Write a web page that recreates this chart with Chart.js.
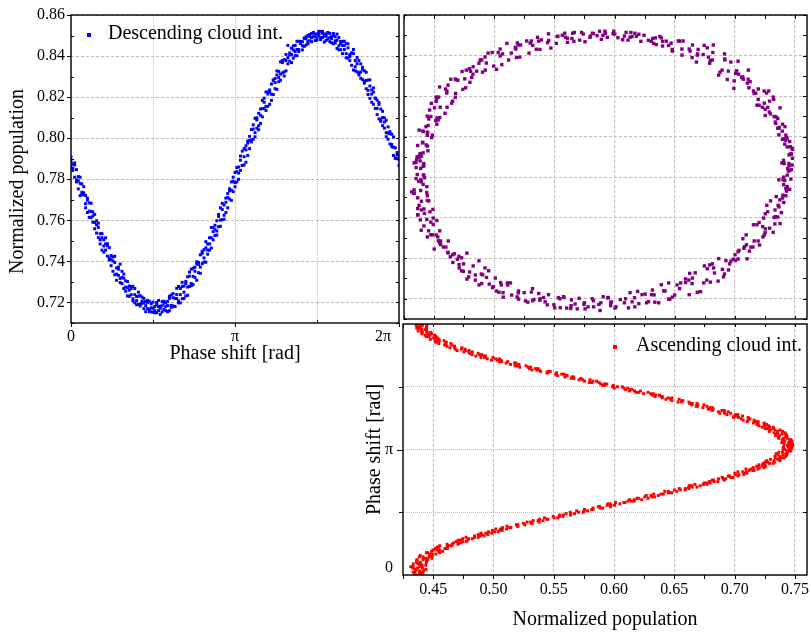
<!DOCTYPE html>
<html>
<head>
<meta charset="utf-8">
<script src="https://cdn.jsdelivr.net/npm/chart.js@4/dist/chart.umd.min.js"></script>
<style>
  html, body { margin: 0; padding: 0; background: #fff; }
  #wrap { position: relative; width: 811px; height: 632px; overflow: hidden; background: #fff; }
  canvas { position: absolute; }
</style>
</head>
<body>
<div id="wrap">
  <canvas id="c1" width="403" height="372" style="left:0;top:0;width:403px;height:372px"></canvas>
  <canvas id="c2" width="411" height="323" style="left:400px;top:0;width:411px;height:323px"></canvas>
  <canvas id="c3" width="481" height="312" style="left:330px;top:320px;width:481px;height:312px"></canvas>
</div>
<script>
const PI = Math.PI;

// Phase shift of each scan step (rad); every run uses the same steps
const phase = [
  0.000,0.035,0.070,0.105,0.140,0.175,0.209,0.244,0.279,0.314,
  0.349,0.384,0.419,0.454,0.489,0.524,0.559,0.593,0.628,0.663,
  0.698,0.733,0.768,0.803,0.838,0.873,0.908,0.942,0.977,1.012,
  1.047,1.082,1.117,1.152,1.187,1.222,1.257,1.292,1.326,1.361,
  1.396,1.431,1.466,1.501,1.536,1.571,1.606,1.641,1.676,1.710,
  1.745,1.780,1.815,1.850,1.885,1.920,1.955,1.990,2.025,2.059,
  2.094,2.129,2.164,2.199,2.234,2.269,2.304,2.339,2.374,2.409,
  2.443,2.478,2.513,2.548,2.583,2.618,2.653,2.688,2.723,2.758,
  2.793,2.827,2.862,2.897,2.932,2.967,3.002,3.037,3.072,3.107,
  3.142,3.176,3.211,3.246,3.281,3.316,3.351,3.386,3.421,3.456,
  3.491,3.526,3.560,3.595,3.630,3.665,3.700,3.735,3.770,3.805,
  3.840,3.875,3.910,3.944,3.979,4.014,4.049,4.084,4.119,4.154,
  4.189,4.224,4.259,4.294,4.328,4.363,4.398,4.433,4.468,4.503,
  4.538,4.573,4.608,4.643,4.677,4.712,4.747,4.782,4.817,4.852,
  4.887,4.922,4.957,4.992,5.027,5.061,5.096,5.131,5.166,5.201,
  5.236,5.271,5.306,5.341,5.376,5.411,5.445,5.480,5.515,5.550,
  5.585,5.620,5.655,5.690,5.725,5.760,5.794,5.829,5.864,5.899,
  5.934,5.969,6.004,6.039,6.074,6.109,6.144,6.178,6.213,6.248,
  6.283
];

// Normalized population of the descending cloud, three runs
const descendingRun1 = [
  0.7907,0.7853,0.7870,0.7787,0.7793,0.7810,0.7727,0.7734,0.7661,0.7698,
  0.7645,0.7683,0.7591,0.7589,0.7598,0.7516,0.7535,0.7455,0.7505,0.7455,
  0.7486,0.7407,0.7409,0.7422,0.7335,0.7368,0.7332,0.7387,0.7292,0.7318,
  0.7255,0.7272,0.7280,0.7238,0.7278,0.7198,0.7229,0.7190,0.7233,0.7196,
  0.7170,0.7205,0.7170,0.7206,0.7174,0.7152,0.7180,0.7190,0.7160,0.7182,
  0.7204,0.7166,0.7180,0.7205,0.7160,0.7236,0.7183,0.7220,0.7269,0.7198,
  0.7238,0.7278,0.7220,0.7292,0.7275,0.7348,0.7292,0.7327,0.7372,0.7308,
  0.7385,0.7372,0.7449,0.7417,0.7466,0.7435,0.7485,0.7565,0.7505,0.7556,
  0.7528,0.7619,0.7601,0.7653,0.7605,0.7688,0.7731,0.7704,0.7747,0.7810,
  0.7763,0.7837,0.7830,0.7913,0.7867,0.7910,0.7963,0.7916,0.7989,0.7992,
  0.8065,0.8027,0.8089,0.8061,0.8112,0.8184,0.8145,0.8135,0.8215,0.8225,
  0.8214,0.8283,0.8271,0.8238,0.8325,0.8312,0.8378,0.8323,0.8378,0.8452,
  0.8375,0.8408,0.8450,0.8422,0.8402,0.8472,0.8471,0.8450,0.8487,0.8484,
  0.8460,0.8505,0.8510,0.8494,0.8506,0.8488,0.8520,0.8480,0.8510,0.8498,
  0.8506,0.8484,0.8510,0.8485,0.8460,0.8494,0.8477,0.8430,0.8461,0.8472,
  0.8432,0.8462,0.8390,0.8408,0.8415,0.8332,0.8378,0.8393,0.8318,0.8322,
  0.8335,0.8268,0.8281,0.8213,0.8284,0.8215,0.8165,0.8195,0.8145,0.8174,
  0.8092,0.8101,0.8099,0.8007,0.8025,0.8022,0.7969,0.8006,0.7903,0.7920,
  0.7907
];
const descendingRun2 = [
  0.7857,0.7873,0.7880,0.7797,0.7813,0.7720,0.7777,0.7724,0.7721,0.7638,
  0.7685,0.7613,0.7621,0.7629,0.7538,0.7566,0.7485,0.7515,0.7475,0.7515,
  0.7426,0.7467,0.7379,0.7402,0.7395,0.7308,0.7372,0.7317,0.7352,0.7268,
  0.7305,0.7232,0.7260,0.7278,0.7218,0.7268,0.7189,0.7230,0.7193,0.7226,
  0.7200,0.7155,0.7210,0.7156,0.7194,0.7172,0.7150,0.7200,0.7180,0.7142,
  0.7154,0.7206,0.7200,0.7155,0.7230,0.7186,0.7223,0.7180,0.7219,0.7278,
  0.7268,0.7218,0.7280,0.7232,0.7325,0.7278,0.7362,0.7287,0.7352,0.7388,
  0.7345,0.7432,0.7389,0.7457,0.7396,0.7485,0.7455,0.7515,0.7565,0.7526,
  0.7598,0.7569,0.7661,0.7603,0.7675,0.7638,0.7711,0.7754,0.7697,0.7790,
  0.7833,0.7787,0.7860,0.7843,0.7937,0.7870,0.7943,0.7986,0.7949,0.8042,
  0.7995,0.8097,0.8049,0.8121,0.8072,0.8144,0.8195,0.8155,0.8225,0.8165,
  0.8264,0.8213,0.8291,0.8328,0.8275,0.8372,0.8318,0.8383,0.8328,0.8392,
  0.8415,0.8368,0.8430,0.8402,0.8472,0.8432,0.8461,0.8430,0.8487,0.8454,
  0.8500,0.8475,0.8490,0.8514,0.8476,0.8508,0.8500,0.8490,0.8520,0.8468,
  0.8496,0.8514,0.8470,0.8495,0.8500,0.8464,0.8437,0.8490,0.8431,0.8452,
  0.8472,0.8412,0.8460,0.8378,0.8415,0.8432,0.8328,0.8363,0.8308,0.8362,
  0.8285,0.8328,0.8241,0.8283,0.8194,0.8235,0.8245,0.8145,0.8185,0.8094,
  0.8142,0.8061,0.8049,0.8087,0.7995,0.8032,0.7959,0.7916,0.7953,0.7900,
  0.7867
];
const descendingRun3 = [
  0.7887,0.7843,0.7810,0.7847,0.7753,0.7780,0.7737,0.7764,0.7681,0.7708,
  0.7615,0.7643,0.7641,0.7559,0.7578,0.7586,0.7505,0.7535,0.7445,0.7485,
  0.7476,0.7417,0.7429,0.7352,0.7425,0.7338,0.7362,0.7297,0.7322,0.7338,
  0.7275,0.7302,0.7230,0.7268,0.7208,0.7238,0.7209,0.7250,0.7183,0.7206,
  0.7220,0.7185,0.7200,0.7166,0.7154,0.7202,0.7160,0.7150,0.7210,0.7172,
  0.7184,0.7196,0.7160,0.7185,0.7220,0.7176,0.7243,0.7180,0.7239,0.7208,
  0.7198,0.7298,0.7250,0.7302,0.7235,0.7328,0.7282,0.7367,0.7322,0.7398,
  0.7395,0.7342,0.7439,0.7397,0.7496,0.7455,0.7515,0.7465,0.7545,0.7576,
  0.7548,0.7629,0.7571,0.7683,0.7625,0.7708,0.7661,0.7744,0.7787,0.7740,
  0.7783,0.7857,0.7800,0.7893,0.7867,0.7950,0.7883,0.7976,0.8009,0.7982,
  0.8045,0.8007,0.8099,0.8041,0.8142,0.8104,0.8175,0.8225,0.8155,0.8235,
  0.8184,0.8283,0.8241,0.8308,0.8295,0.8282,0.8368,0.8303,0.8408,0.8362,
  0.8405,0.8438,0.8390,0.8452,0.8432,0.8422,0.8471,0.8470,0.8447,0.8494,
  0.8470,0.8495,0.8470,0.8514,0.8496,0.8478,0.8510,0.8520,0.8490,0.8508,
  0.8476,0.8514,0.8490,0.8465,0.8510,0.8474,0.8507,0.8450,0.8471,0.8412,
  0.8452,0.8392,0.8440,0.8398,0.8355,0.8412,0.8348,0.8323,0.8378,0.8292,
  0.8345,0.8278,0.8321,0.8233,0.8254,0.8175,0.8225,0.8195,0.8115,0.8164,
  0.8082,0.8131,0.8079,0.8027,0.8055,0.7972,0.8019,0.7956,0.7903,0.7930,
  0.7897
];

// Normalized population of the ascending cloud, three runs
const ascendingRun1 = [
  0.4385,0.4409,0.4334,0.4391,0.4350,0.4411,0.4314,0.4389,0.4375,0.4364,
  0.4364,0.4456,0.4440,0.4386,0.4493,0.4473,0.4454,0.4577,0.4531,0.4598,
  0.4536,0.4635,0.4706,0.4669,0.4743,0.4708,0.4795,0.4873,0.4843,0.4904,
  0.4986,0.4959,0.5053,0.5019,0.5135,0.5202,0.5200,0.5319,0.5309,0.5330,
  0.5441,0.5533,0.5496,0.5579,0.5672,0.5636,0.5750,0.5825,0.5826,0.5970,
  0.5944,0.5968,0.6082,0.6166,0.6169,0.6192,0.6335,0.6307,0.6389,0.6460,
  0.6420,0.6550,0.6621,0.6618,0.6645,0.6771,0.6767,0.6831,0.6814,0.6906,
  0.6967,0.6957,0.7075,0.7002,0.7097,0.7121,0.7194,0.7155,0.7234,0.7232,
  0.7319,0.7253,0.7326,0.7367,0.7337,0.7374,0.7430,0.7344,0.7436,0.7436,
  0.7405,0.7471,0.7446,0.7469,0.7410,0.7451,0.7415,0.7466,0.7406,0.7434,
  0.7340,0.7394,0.7357,0.7397,0.7296,0.7323,0.7229,0.7252,0.7264,0.7155,
  0.7174,0.7111,0.7127,0.6992,0.7015,0.7007,0.6917,0.6946,0.6814,0.6821,
  0.6797,0.6691,0.6745,0.6628,0.6561,0.6570,0.6430,0.6450,0.6389,0.6317,
  0.6325,0.6202,0.6169,0.6146,0.6002,0.6028,0.5994,0.5890,0.5816,0.5855,
  0.5740,0.5646,0.5652,0.5609,0.5516,0.5523,0.5391,0.5380,0.5299,0.5309,
  0.5180,0.5192,0.5185,0.5069,0.5033,0.5019,0.4896,0.4924,0.4903,0.4803,
  0.4795,0.4798,0.4683,0.4679,0.4676,0.4605,0.4646,0.4518,0.4551,0.4517,
  0.4524,0.4443,0.4473,0.4486,0.4410,0.4446,0.4404,0.4444,0.4375,0.4409,
  0.4384
];
const ascendingRun2 = [
  0.4415,0.4349,0.4384,0.4421,0.4360,0.4331,0.4394,0.4439,0.4335,0.4394,
  0.4444,0.4366,0.4420,0.4466,0.4393,0.4493,0.4554,0.4487,0.4551,0.4518,
  0.4616,0.4555,0.4656,0.4729,0.4693,0.4788,0.4745,0.4843,0.4923,0.4874,
  0.4936,0.5039,0.4993,0.5109,0.5145,0.5112,0.5260,0.5249,0.5379,0.5370,
  0.5381,0.5503,0.5576,0.5549,0.5642,0.5746,0.5690,0.5815,0.5886,0.5880,
  0.6004,0.5948,0.6092,0.6116,0.6129,0.6282,0.6255,0.6367,0.6329,0.6450,
  0.6520,0.6500,0.6591,0.6688,0.6625,0.6741,0.6747,0.6861,0.6824,0.6926,
  0.6897,0.7027,0.7005,0.7082,0.7027,0.7161,0.7134,0.7245,0.7184,0.7252,
  0.7239,0.7333,0.7266,0.7357,0.7407,0.7334,0.7400,0.7434,0.7396,0.7466,
  0.7455,0.7401,0.7476,0.7439,0.7480,0.7391,0.7475,0.7396,0.7436,0.7364,
  0.7430,0.7344,0.7417,0.7287,0.7336,0.7273,0.7319,0.7202,0.7244,0.7245,
  0.7104,0.7161,0.7057,0.7112,0.6995,0.7027,0.6877,0.6916,0.6894,0.6781,
  0.6817,0.6681,0.6695,0.6688,0.6531,0.6560,0.6470,0.6480,0.6339,0.6347,
  0.6245,0.6282,0.6129,0.6136,0.6112,0.5988,0.5904,0.5940,0.5876,0.5755,
  0.5800,0.5666,0.5662,0.5529,0.5566,0.5443,0.5471,0.5360,0.5349,0.5219,
  0.5270,0.5142,0.5105,0.5119,0.4983,0.5049,0.4926,0.4934,0.4823,0.4873,
  0.4755,0.4768,0.4763,0.4639,0.4676,0.4595,0.4546,0.4608,0.4521,0.4547,
  0.4504,0.4523,0.4433,0.4456,0.4480,0.4376,0.4434,0.4384,0.4445,0.4359,
  0.4414
];
const ascendingRun3 = [
  0.4355,0.4389,0.4414,0.4351,0.4440,0.4371,0.4334,0.4409,0.4395,0.4444,
  0.4364,0.4416,0.4490,0.4416,0.4473,0.4523,0.4444,0.4547,0.4501,0.4618,
  0.4546,0.4655,0.4616,0.4709,0.4773,0.4728,0.4825,0.4773,0.4893,0.4954,
  0.4896,0.5009,0.5073,0.5059,0.5075,0.5202,0.5190,0.5319,0.5279,0.5410,
  0.5451,0.5423,0.5546,0.5639,0.5602,0.5706,0.5780,0.5755,0.5906,0.5870,
  0.5974,0.6048,0.6012,0.6146,0.6229,0.6202,0.6315,0.6267,0.6409,0.6480,
  0.6450,0.6590,0.6541,0.6648,0.6715,0.6671,0.6797,0.6791,0.6914,0.6866,
  0.6987,0.6947,0.7035,0.7102,0.7067,0.7151,0.7094,0.7205,0.7254,0.7202,
  0.7289,0.7273,0.7376,0.7297,0.7387,0.7424,0.7360,0.7424,0.7366,0.7456,
  0.7415,0.7451,0.7406,0.7479,0.7450,0.7461,0.7405,0.7456,0.7366,0.7424,
  0.7370,0.7424,0.7327,0.7357,0.7376,0.7253,0.7289,0.7282,0.7184,0.7195,
  0.7194,0.7071,0.7117,0.7032,0.7065,0.6937,0.6967,0.6866,0.6914,0.6791,
  0.6737,0.6771,0.6645,0.6648,0.6621,0.6480,0.6540,0.6400,0.6399,0.6377,
  0.6305,0.6182,0.6219,0.6096,0.6082,0.6068,0.5924,0.5920,0.5796,0.5825,
  0.5710,0.5726,0.5592,0.5609,0.5586,0.5453,0.5451,0.5320,0.5369,0.5289,
  0.5200,0.5212,0.5175,0.5049,0.5063,0.4949,0.4996,0.4854,0.4883,0.4813,
  0.4825,0.4698,0.4733,0.4739,0.4616,0.4655,0.4606,0.4538,0.4591,0.4477,
  0.4534,0.4463,0.4513,0.4406,0.4450,0.4406,0.4444,0.4364,0.4395,0.4449,
  0.4376
];

const descendingRuns = [descendingRun1, descendingRun2, descendingRun3];
const ascendingRuns = [ascendingRun1, ascendingRun2, ascendingRun3];

// Axis ticks
const phaseTicks = [0, PI / 2, PI, 3 * PI / 2, 2 * PI];
const phaseTickLabelsX = ['0', '', 'π', '', '2π        '];
const phaseTickLabelsY = [['0', ''], '', 'π', '', ''];
const popTicks = [0.72, 0.74, 0.76, 0.78, 0.80, 0.82, 0.84, 0.86];
const popMinorTicks = [0.71, 0.73, 0.75, 0.77, 0.79, 0.81, 0.83, 0.85];
const ascTicks = [0.45, 0.50, 0.55, 0.60, 0.65, 0.70, 0.75];
const ascMinorTicks = [0.425, 0.475, 0.525, 0.575, 0.625, 0.675, 0.725];

// Build point lists from the runs
function points(xOf, yOf) {
  const out = [];
  for (let r = 0; r < descendingRuns.length; r++) {
    for (let i = 0; i < phase.length; i++) out.push({ x: xOf(r, i), y: yOf(r, i) });
  }
  return out;
}

Chart.defaults.font.family = '"Liberation Serif", "Times New Roman", Times, serif';
Chart.defaults.font.size = 16;
Chart.defaults.color = '#000';

const GRID = '#bdbdbd';

// Frame around the plot area plus inward/outward tick marks (len > 0: outward)
const frameTicks = {
  id: 'frameTicks',
  afterDatasetsDraw(chart, args, opts) {
    const { ctx, chartArea: a, scales } = chart;
    ctx.save();
    ctx.strokeStyle = '#000';
    ctx.lineWidth = 1;
    for (const m of opts.marks) {
      const sc = scales[m.axis];
      ctx.beginPath();
      for (const v of m.values) {
        const p = Math.round(sc.getPixelForValue(v)) + 0.5;
        if (m.side === 'left')   { ctx.moveTo(a.left, p);  ctx.lineTo(a.left - m.len, p); }
        if (m.side === 'right')  { ctx.moveTo(a.right, p); ctx.lineTo(a.right + m.len, p); }
        if (m.side === 'top')    { ctx.moveTo(p, a.top);   ctx.lineTo(p, a.top - m.len); }
        if (m.side === 'bottom') { ctx.moveTo(p, a.bottom); ctx.lineTo(p, a.bottom + m.len); }
      }
      ctx.stroke();
    }
    ctx.lineWidth = 1.4;
    ctx.strokeRect(a.left, a.top, a.right - a.left, a.bottom - a.top);
    ctx.restore();
  }
};

// Legend entry drawn inside the plot area
const insetLegend = {
  id: 'insetLegend',
  afterDraw(chart, args, opts) {
    if (!opts.show) return;
    const { ctx, chartArea: a } = chart;
    const ds = chart.data.datasets[0];
    const cx = a.left + opts.dx, cy = a.top + opts.dy;
    ctx.save();
    ctx.fillStyle = ds.backgroundColor;
    ctx.fillRect(cx - 2, cy - 2, 4, 4);
    ctx.fillStyle = '#000';
    ctx.font = '20px "Liberation Serif", "Times New Roman", serif';
    ctx.textBaseline = 'middle';
    ctx.textAlign = 'left';
    ctx.fillText(ds.label, cx + opts.gap, cy - 1);
    ctx.restore();
  }
};

function setTicks(values) {
  return s => { s.ticks = values.map(v => ({ value: v })); };
}
function fixBox(dim, size) {
  return s => {
    s[dim] = size;
    s.paddingLeft = s.paddingRight = s.paddingTop = s.paddingBottom = 0;
  };
}

const common = {
  responsive: false,
  animation: false,
  devicePixelRatio: 1,
  events: []
};

// Descending cloud vs. phase
new Chart(document.getElementById('c1'), {
  type: 'scatter',
  data: {
    datasets: [{
      label: 'Descending cloud int.',
      data: points((r, i) => phase[i], (r, i) => descendingRuns[r][i]),
      backgroundColor: '#0000ff',
      pointStyle: 'rect', pointRadius: 2.1, pointBorderWidth: 0
    }]
  },
  options: Object.assign({}, common, {
    layout: { padding: { top: 15, left: 0, right: 0, bottom: 0 } },
    plugins: {
      legend: { display: false }, tooltip: { enabled: false },
      insetLegend: { show: true, dx: 18, dy: 20, gap: 19 },
      frameTicks: { marks: [
        { axis: 'y', side: 'left', values: popTicks, len: 4 },
        { axis: 'y', side: 'left', values: popMinorTicks, len: -3 },
        { axis: 'y', side: 'right', values: popTicks.concat(popMinorTicks), len: -3 },
        { axis: 'x', side: 'bottom', values: [0, PI, 2 * PI], len: 4 },
        { axis: 'x', side: 'bottom', values: [PI / 2, 3 * PI / 2], len: -3 }
      ] }
    },
    scales: {
      x: {
        type: 'linear', min: 0, max: 2 * PI,
        afterBuildTicks: setTicks(phaseTicks),
        afterFit: fixBox('height', 49),
        ticks: { autoSkip: false, maxRotation: 0, padding: 4, callback: (v, i) => phaseTickLabelsX[i] },
        grid: { drawTicks: false, color: GRID, lineWidth: 1 },
        border: { display: false, dash: [1, 1] },
        title: { display: true, text: 'Phase shift [rad]', font: { size: 20 }, padding: { top: 0, bottom: 6 } }
      },
      y: {
        type: 'linear', min: 0.71, max: 0.86,
        afterBuildTicks: setTicks(popTicks),
        afterFit: fixBox('width', 71),
        ticks: { padding: 6, callback: v => v.toFixed(2) },
        grid: { drawTicks: false, color: GRID, lineWidth: 1 },
        border: { display: false, dash: [3, 2] },
        title: { display: true, text: 'Normalized population     ', font: { size: 20 }, padding: { top: 6, bottom: 0 } }
      }
    }
  }),
  plugins: [frameTicks, insetLegend]
});

// Descending vs. ascending population
new Chart(document.getElementById('c2'), {
  type: 'scatter',
  data: {
    datasets: [{
      label: 'Correlation',
      data: points((r, i) => ascendingRuns[r][i], (r, i) => descendingRuns[r][i]),
      backgroundColor: '#800080',
      pointStyle: 'rect', pointRadius: 2.4, pointBorderWidth: 0
    }]
  },
  options: Object.assign({}, common, {
    layout: { padding: { top: 15, left: 0, right: 2, bottom: 0 } },
    plugins: {
      legend: { display: false }, tooltip: { enabled: false },
      insetLegend: { show: false },
      frameTicks: { marks: [
        { axis: 'y', side: 'left', values: popTicks.concat(popMinorTicks), len: -3 },
        { axis: 'y', side: 'right', values: popTicks.concat(popMinorTicks), len: -4 },
        { axis: 'x', side: 'top', values: ascTicks.concat(ascMinorTicks), len: -4 },
        { axis: 'x', side: 'bottom', values: ascTicks.concat(ascMinorTicks), len: -3 }
      ] }
    },
    scales: {
      x: {
        type: 'linear', min: 0.425, max: 0.76,
        afterBuildTicks: setTicks(ascTicks),
        afterFit: fixBox('height', 0),
        ticks: { display: false },
        grid: { drawTicks: false, color: GRID, lineWidth: 1 },
        border: { display: false, dash: [3, 2] }
      },
      y: {
        type: 'linear', min: 0.71, max: 0.86,
        afterBuildTicks: setTicks(popTicks),
        afterFit: fixBox('width', 3),
        ticks: { display: false },
        grid: { drawTicks: false, color: GRID, lineWidth: 1 },
        border: { display: false, dash: [3, 2] }
      }
    }
  }),
  plugins: [frameTicks, insetLegend]
});

// Phase vs. ascending cloud
new Chart(document.getElementById('c3'), {
  type: 'scatter',
  data: {
    datasets: [{
      label: 'Ascending cloud int.',
      data: points((r, i) => ascendingRuns[r][i], (r, i) => phase[i]),
      backgroundColor: '#ff0000',
      pointStyle: 'rect', pointRadius: 2.1, pointBorderWidth: 0
    }]
  },
  options: Object.assign({}, common, {
    layout: { padding: { top: 3, left: 0, right: 2, bottom: 0 } },
    plugins: {
      legend: { display: false }, tooltip: { enabled: false },
      insetLegend: { show: true, dx: 212, dy: 23, gap: 21 },
      frameTicks: { marks: [
        { axis: 'y', side: 'left', values: [PI], len: 6 },
        { axis: 'y', side: 'left', values: [PI / 2, 3 * PI / 2], len: 4 },
        { axis: 'y', side: 'right', values: [PI / 2, PI, 3 * PI / 2], len: -4 },
        { axis: 'x', side: 'bottom', values: ascTicks.concat(ascMinorTicks), len: 4 },
        { axis: 'x', side: 'top', values: ascTicks.concat(ascMinorTicks), len: -3 }
      ] }
    },
    scales: {
      x: {
        type: 'linear', min: 0.425, max: 0.76,
        afterBuildTicks: setTicks(ascTicks),
        afterFit: fixBox('height', 57),
        ticks: { autoSkip: false, maxRotation: 0, padding: 5, callback: v => v.toFixed(2) },
        grid: { drawTicks: false, color: GRID, lineWidth: 1 },
        border: { display: false, dash: [3, 2] },
        title: { display: true, text: 'Normalized population', font: { size: 20 }, padding: { top: 0, bottom: 0 } }
      },
      y: {
        type: 'linear', min: 0, max: 2 * PI,
        afterBuildTicks: setTicks(phaseTicks),
        afterFit: fixBox('width', 73),
        ticks: { autoSkip: false, padding: 10, font: { size: 16, lineHeight: 0.875 }, callback: (v, i) => phaseTickLabelsY[i] },
        grid: { drawTicks: false, color: GRID, lineWidth: 1 },
        border: { display: false, dash: [1, 1] },
        title: { display: true, text: 'Phase shift [rad]', font: { size: 20 }, padding: { top: 33, bottom: 0 } }
      }
    }
  }),
  plugins: [frameTicks, insetLegend]
});
</script>
</body>
</html>
